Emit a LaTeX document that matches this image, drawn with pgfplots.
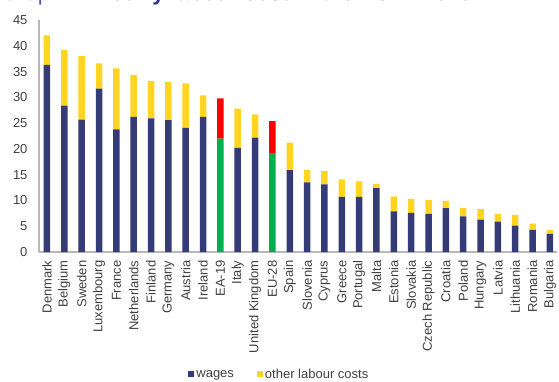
\documentclass[border=0pt]{standalone}
\usepackage{pgfplots}
\pgfplotsset{compat=1.18}
\usepackage{pgfplotstable}
\usepackage{fontspec}
\setmainfont{Liberation Sans}
\definecolor{navy}{HTML}{353B74}
\definecolor{gold}{HTML}{FFD522}
\definecolor{eugreen}{HTML}{00B050}
\definecolor{eured}{HTML}{FF0000}
\definecolor{txt}{HTML}{404040}
\definecolor{titleblue}{HTML}{2E3192}
\definecolor{titlelight}{HTML}{5558A6}

\pgfplotstableread{
x wages euw other eur
0 36.3 0 5.7 0
1 28.4 0 10.8 0
2 25.7 0 12.3 0
3 31.7 0 4.9 0
4 23.8 0 11.8 0
5 26.2 0 8.1 0
6 25.9 0 7.3 0
7 25.6 0 7.4 0
8 24.1 0 8.6 0
9 26.2 0 4.2 0
10 0 22.0 0 7.8
11 20.2 0 7.6 0
12 22.2 0 4.5 0
13 0 19.2 0 6.2
14 15.9 0 5.3 0
15 13.5 0 2.5 0
16 13.1 0 2.6 0
17 10.7 0 3.4 0
18 10.7 0 3.0 0
19 12.4 0 0.8 0
20 7.9 0 2.9 0
21 7.6 0 2.7 0
22 7.4 0 2.7 0
23 8.5 0 1.4 0
24 6.9 0 1.6 0
25 6.3 0 2.0 0
26 5.9 0 1.5 0
27 5.1 0 2.1 0
28 4.3 0 1.2 0
29 3.5 0 0.8 0
}\data

\begin{document}
\begin{tikzpicture}[x=1pt,y=1pt]
\begin{axis}[
  at={(39pt,129pt)}, anchor=south west,
  scale only axis, width=518pt, height=232pt,
  ybar stacked, bar width=6.5pt,
  xmin=-0.46, xmax=29.41, ymin=0, ymax=45,
  xtick=data,
  xticklabels={Denmark,Belgium,Sweden,Luxembourg,France,Netherlands,Finland,Germany,Austria,Ireland,EA-19,Italy,United Kingdom,EU-28,Spain,Slovenia,Cyprus,Greece,Portugal,Malta,Estonia,Slovakia,Czech Republic,Croatia,Poland,Hungary,Latvia,Lithuania,Romania,Bulgaria},
  ytick={0,5,...,45},
  axis x line*=bottom, axis y line*=left,
  axis line style={-, draw=black!28, line width=1.2pt},
  major tick length=0pt,
  tick label style={font=\fontsize{13}{15}\selectfont, text=txt},
  xticklabel style={rotate=90, anchor=east},
  xticklabel shift=5pt,
  yticklabel shift=8pt,
  /pgf/number format/assume math mode=true,
  legend style={at={(0.464,-0.527)}, anchor=center, draw=none, fill=none,
    font=\fontsize{13}{15}\selectfont, text=txt, legend columns=2,
    /tikz/every even column/.append style={column sep=21pt}},
  legend image code/.code={\fill[#1] (0pt,-3pt) rectangle (6pt,3pt);},
  clip=false,
]
\addplot[fill=navy, draw=none] table[x=x, y=wages] {\data};
\addlegendentry{wages}
\addplot[fill=eugreen, draw=none, forget plot] table[x=x, y=euw] {\data};
\addplot[fill=gold, draw=none] table[x=x, y=other] {\data};
\addlegendentry{other labour costs}
\addplot[fill=eured, draw=none, forget plot] table[x=x, y=eur] {\data};
\end{axis}
\begin{scope}
\clip (0,0) rectangle (559,381);
\node[anchor=base west, inner sep=0pt] at (1,380.5) {\fontsize{22}{26}\selectfont\color{titlelight}Graph 1: \color{titleblue}\bfseries Hourly labour cost in the EU in 2016};
\end{scope}
\pgfresetboundingbox
\useasboundingbox (0,0) rectangle (559,381);
\end{tikzpicture}
\end{document}
